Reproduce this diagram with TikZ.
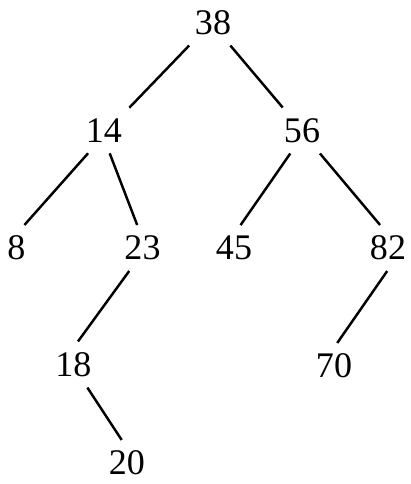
\documentclass[tikz,border=0pt]{standalone}
\usepackage{fontspec}
\setmainfont{Liberation Serif}
\begin{document}
\begin{tikzpicture}[
  x=0.02cm, y=-0.02cm,
  every node/.style={font=\fontsize{20.5}{24}\selectfont, inner sep=6pt},
  key/.style={rectangle},
  edge/.style={line width=1.4pt}
]
\useasboundingbox (0,0) rectangle (410,484);
% Wurzel
\node[key] (k38) at (213, 22.5) {38};

% Ebene 1
\node[key] (k14) at (104, 130.5) {14};
\node[key] (k56) at (302, 130.5) {56};

% Ebene 2
\node[key] (k8)  at (16.5, 248)  {8};
\node[key] (k23) at (142.5, 248) {23};
\node[key] (k45) at (234, 248)   {45};
\node[key] (k82) at (388, 248)   {82};

% Ebene 3
\node[key] (k18) at (73.5, 364.5) {18};
\node[key] (k70) at (334, 366)    {70};

% Ebene 4
\node[key] (k20) at (127, 463) {20};

% Kanten
\draw[edge] (k38.224) -- (k14.42);
\draw[edge] (k38.307) -- (k56.130);
\draw[edge] (k14.235) -- (k8.71);
\draw[edge] (k14.284) -- (k23.103);
\draw[edge] (k56.243) -- (k45.74);
\draw[edge] (k56.308) -- (k82.109);
\draw[edge] (k23.240) -- (k18.79);
\draw[edge] (k82.268) -- (k70.82);
\draw[edge] (k18.301) -- (k20.103);
\end{tikzpicture}
\end{document}
